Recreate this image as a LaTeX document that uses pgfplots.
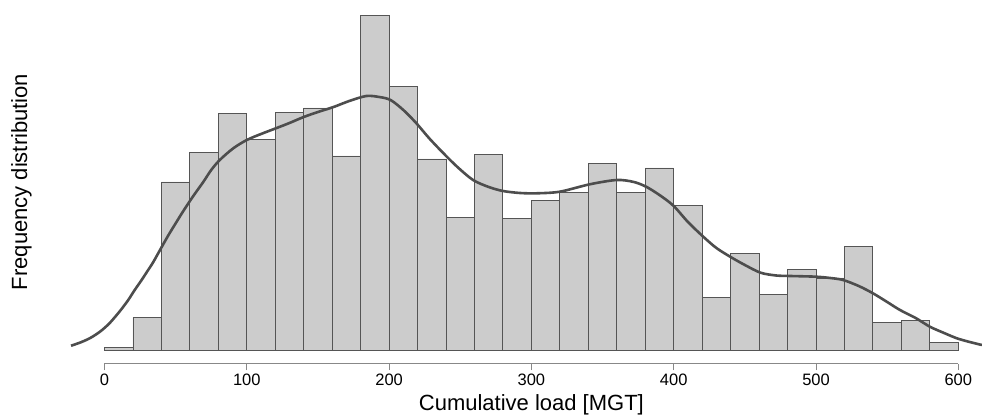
\documentclass[border=0pt]{standalone}
\usepackage{pgfplots}
\pgfplotsset{compat=1.18}
\usepackage{fontspec}
\setmainfont{Liberation Sans}
\definecolor{barfill}{HTML}{CCCCCC}
\definecolor{baredge}{HTML}{555555}
\definecolor{curvecol}{HTML}{4D4D4D}
\definecolor{axcol}{HTML}{888888}
\begin{document}
\begin{tikzpicture}
\begin{axis}[
  scale only axis,
  width=911pt, height=364pt,
  xmin=-23.54, xmax=616.65,
  ymin=-14, ymax=350,
  axis y line=none,
  axis x line*=bottom,
  x axis line style={draw=none},
  xtick={0,100,200,300,400,500,600},
  tick align=outside,
  major tick length=6.5pt,
  x tick style={axcol, line width=1pt},
  /pgf/number format/assume math mode=true,
  xticklabel style={font=\fontsize{16.5}{18}\selectfont, anchor=north},
  clip=false,
]
\addplot[ybar interval, fill=barfill, draw=baredge, line width=0.9pt] coordinates {
(0,2.7) (20,32.3) (40,168) (60,197.3) (80,236.7) (100,210.7) (120,237.3) (140,242)
(160,194) (180,334.3) (200,263.7) (220,191) (240,132.7) (260,195.7) (280,131.7)
(300,149.7) (320,157.7) (340,186.7) (360,157.7) (380,182) (400,144.3) (420,52.7)
(440,96.7) (460,55.3) (480,80.7) (500,72) (520,103.7) (540,27.7) (560,29.7) (580,7.3) (600,7.3)
};
\addplot[smooth, tension=0.5, curvecol, line width=2.6pt] coordinates {
(-23.5,4.3) (-17,7.5) (-10,12) (-3,18.5) (3,26) (8,34) (12,41) (16.7,50) (21,59.5)
(26.1,70) (30,78.5) (34.3,88) (40.2,103) (45,115) (49.5,125.5) (55.4,139) (62.4,154)
(69.4,168) (75,180) (81,190) (90.5,201.7) (100,210) (110,216) (121,222) (130,227)
(140,233) (150,238) (161,243) (172,249) (184,254) (193,253) (201,250) (210,240)
(219,227) (228,212) (238,197) (248,183) (259,170) (270,163) (280,159) (292,157)
(304,156.7) (320,158.3) (341,165.7) (360,170) (372,168) (381,163) (391,154) (400,144)
(410,128) (421,113) (430,102) (440,93) (450,85) (461,77.3) (472,74.5) (482,74)
(500,73.3) (510,72) (519,70) (530,64) (540,56.7) (550,48) (559,40) (570,32) (580,23.3)
(590,17) (599,11.7) (608,8) (616.6,5)
};
\draw[axcol, line width=1pt] (axis cs:0,-14) -- (axis cs:600,-14);
\node[font=\fontsize{22}{26}\selectfont, anchor=center] at (axis cs:300,-55) {Cumulative load [MGT]};
\node[font=\fontsize{22}{26}\selectfont, rotate=90, anchor=center] at (axis cs:-58.3,168) {Frequency distribution};
\end{axis}
\pgfresetboundingbox
\path (-71pt,-55pt) rectangle (911pt,364pt);
\end{tikzpicture}
\end{document}
